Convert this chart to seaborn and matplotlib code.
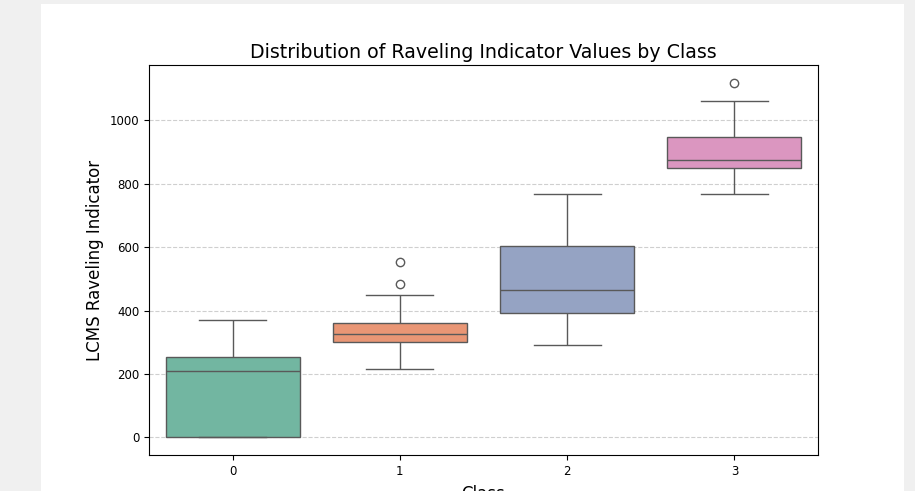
import matplotlib
matplotlib.use("Agg")
import matplotlib.pyplot as plt
from matplotlib.patches import Rectangle
import seaborn as sns
import pandas as pd

# Estimated raw samples per class (read from box/whisker/outlier positions)
classes = [0, 1, 2, 3]
class0 = [0, 0, 0, 0, 60, 150, 210, 225, 240, 253, 300, 340, 371]
class1 = [216, 250, 280, 301, 310, 320, 327, 335, 350, 362, 448, 483, 554]
class2 = [291, 330, 370, 392, 420, 445, 465, 500, 560, 604, 680, 720, 767]
class3 = [768, 800, 830, 850, 860, 868, 875, 890, 920, 948, 1000, 1061, 1119]

samples = [class0, class1, class2, class3]
df = pd.DataFrame({
    "Class": [c for c, s in zip(classes, samples) for _ in s],
    "LCMS Raveling Indicator": [v for s in samples for v in s],
})

W, H, DPI = 915, 491, 100
fig = plt.figure(figsize=(W / DPI, H / DPI), dpi=DPI, facecolor="#f0f0f0")
bg = Rectangle((41 / W, 0), (904 - 41) / W, 1 - 4 / H,
               transform=fig.transFigure, facecolor="white",
               edgecolor="none", zorder=-10)
fig.add_artist(bg)
ax = fig.add_axes([149 / W, 1 - 455 / H, (818 - 149) / W, (455 - 65) / H])
ax.set_zorder(1)

sns.boxplot(data=df, x="Class", y="LCMS Raveling Indicator", hue="Class",
            palette="Set2", legend=False, ax=ax)

ax.grid(axis="y", linestyle="--", alpha=0.6)
ax.set_axisbelow(True)
ax.set_title("Distribution of Raveling Indicator Values by Class", fontsize=13.7, pad=5)
ax.set_xlabel("Class", fontsize=12, labelpad=5)
ax.set_ylabel("LCMS Raveling Indicator", fontsize=12)
ax.tick_params(labelsize=8.5)

fig.savefig("out.png", dpi=DPI, facecolor=fig.get_facecolor())
